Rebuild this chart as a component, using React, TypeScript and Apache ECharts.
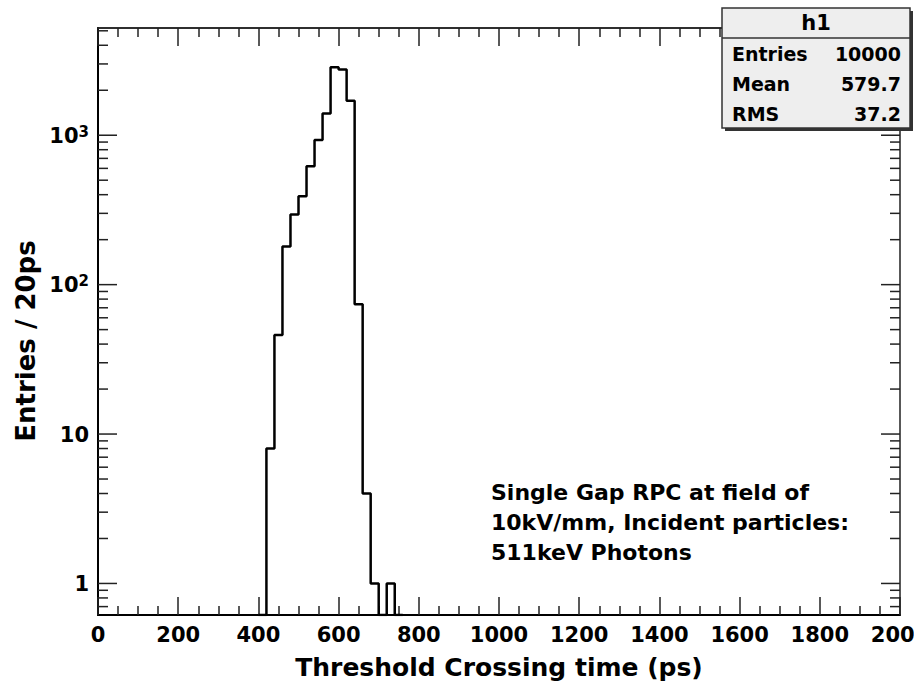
import React, { useEffect, useRef } from 'react';
import * as echarts from 'echarts';

// ---- data ----
const BIN_WIDTH = 20; // ps
const binLowEdges = [420, 440, 460, 480, 500, 520, 540, 560, 580, 600, 620, 640, 660, 680, 700, 720];
const entriesPerBin = [8, 46, 180, 295, 390, 620, 930, 1400, 2850, 2750, 1700, 74, 4, 1, 0, 1];

const X_MIN = 0;
const X_MAX = 2000;
const X_STEP = 200;
const Y_MIN = 0.615;
const Y_MAX = 5220;
const yDecades = [1, 10, 100, 1000];
const yMinorTicks = [
  0.7, 0.8, 0.9,
  2, 3, 4, 5, 6, 7, 8, 9,
  20, 30, 40, 50, 60, 70, 80, 90,
  200, 300, 400, 500, 600, 700, 800, 900,
  2000, 3000, 4000, 5000,
];

const xTitle = 'Threshold Crossing time (ps)';
const yTitle = 'Entries / 20ps';
const statsTitle = 'h1';
const statsLabels = ['Entries', 'Mean', 'RMS'];
const statsValues = ['10000', '579.7', '37.2'];
const noteLines = ['Single Gap RPC at field of', '10kV/mm, Incident particles:', '511keV Photons'];

const FONT = '"DejaVu Sans", "Liberation Sans", Arial, sans-serif';
const INK = '#000';
const FRAME = '#222';

export default function App() {
  const ref = useRef<HTMLDivElement>(null);

  useEffect(() => {
    if (!ref.current) return;
    const chart = echarts.init(ref.current, null, { renderer: 'svg', width: 914, height: 684 });

    // histogram outline (ROOT style): zero bins drop to the frame bottom
    const stepData: number[][] = [[binLowEdges[0] - BIN_WIDTH, Y_MIN]];
    binLowEdges.forEach((x, i) => {
      stepData.push([x, entriesPerBin[i] > 0 ? entriesPerBin[i] : Y_MIN]);
    });
    const lastEdge = binLowEdges[binLowEdges.length - 1] + BIN_WIDTH;
    stepData.push([lastEdge, Y_MIN]);
    stepData.push([lastEdge + BIN_WIDTH, Y_MIN]);

    const tickData = [
      ...yDecades.map((v) => [X_MIN, v, 1]),
      ...yMinorTicks.map((v) => [X_MIN, v, 0]),
    ];

    const labelFont = { fontFamily: FONT, fontWeight: 'bold' as const, color: INK };

    const xAxisCommon = {
      type: 'value' as const,
      min: X_MIN,
      max: X_MAX,
      interval: X_STEP,
      splitLine: { show: false },
      axisTick: { show: true, inside: true, length: 18, lineStyle: { color: FRAME, width: 1.5 } },
      minorTick: { show: true, splitNumber: 4, length: 9, lineStyle: { color: FRAME, width: 1.5 } },
      minorSplitLine: { show: false },
    };

    const TOP_Z = 100;
    const txt = (text: string, x: number, y: number, size: number, align: string) => ({
      type: 'text',
      x,
      y,
      z: TOP_Z + 2,
      style: {
        text, fontSize: size, fontWeight: 'bold', fontFamily: FONT, fill: INK,
        align, verticalAlign: 'middle', textAlign: align, textVerticalAlign: 'middle',
      },
    });

    const statsChildren: any[] = [
      { type: 'rect', z: TOP_Z, shape: { x: 725, y: 11, width: 188, height: 120 }, style: { fill: '#333' } },
      {
        type: 'rect',
        z: TOP_Z + 1,
        shape: { x: 722, y: 8, width: 188, height: 120 },
        style: { fill: '#eeeeee', stroke: '#333', lineWidth: 1.5 },
      },
      {
        type: 'line',
        z: TOP_Z + 2,
        shape: { x1: 722, y1: 38, x2: 910, y2: 38 },
        style: { stroke: '#333', lineWidth: 1.5 },
      },
      txt(statsTitle, 816, 23, 21, 'center'),
    ];
    statsLabels.forEach((lab, i) => {
      const y = 54 + 30 * i;
      statsChildren.push(txt(lab, 732, y, 19, 'left'));
      statsChildren.push(txt(statsValues[i], 901, y, 19, 'right'));
    });

    const option: any = {
      animation: false,
      backgroundColor: '#fff',
      grid: {
        left: 98, top: 28, right: 14, bottom: 69,
        containLabel: false,
        outerBoundsMode: 'none',
        show: true, borderColor: FRAME, borderWidth: 1.5, backgroundColor: 'transparent',
      },
      xAxis: [
        {
          ...xAxisCommon,
          position: 'bottom',
          axisLine: { show: true, onZero: false, lineStyle: { color: INK, width: 2 } },
          axisLabel: {
            show: true, margin: 9, fontSize: 21, ...labelFont, showMaxLabel: true, showMinLabel: true,
            alignMaxLabel: 'center', alignMinLabel: 'center',
            formatter: (v: number) => String(v),
          },
          name: xTitle,
          nameLocation: 'middle',
          nameGap: 40,
          nameTextStyle: { fontSize: 25, ...labelFont },
        },
        {
          ...xAxisCommon,
          position: 'top',
          axisLine: { show: true, onZero: false, lineStyle: { color: FRAME, width: 1.5 } },
          axisLabel: { show: false },
        },
      ],
      yAxis: [
        {
          type: 'log',
          logBase: 10,
          min: Y_MIN,
          max: Y_MAX,
          splitLine: { show: false },
          axisTick: { show: false },
          minorTick: { show: false },
          axisLine: { show: true, lineStyle: { color: INK, width: 2 } },
          axisLabel: {
            show: true,
            margin: 9,
            formatter: (v: number) => {
              const e = Math.log10(v);
              const r = Math.round(e);
              if (Math.abs(e - r) > 1e-6) return '';
              if (r === 0) return '{b|1}';
              if (r === 1) return '{b|10}';
              return '{b|10}{s|' + r + '}';
            },
            rich: {
              b: { fontSize: 21, lineHeight: 22, verticalAlign: 'bottom', ...labelFont },
              s: { fontSize: 15, lineHeight: 15, padding: [0, 0, 18, 0], verticalAlign: 'top', ...labelFont },
            },
          },
        },
      ],
      series: [
        {
          type: 'line',
          xAxisIndex: 0,
          yAxisIndex: 0,
          step: 'end',
          symbol: 'none',
          data: stepData,
          lineStyle: { color: INK, width: 2.5 },
          clip: true,
          z: 4,
          silent: true,
        },
        {
          type: 'custom',
          xAxisIndex: 0,
          yAxisIndex: 0,
          data: tickData,
          silent: true,
          clip: false,
          z: 3,
          renderItem: (params: any, api: any) => {
            const y = api.coord([X_MIN, api.value(1)])[1];
            const cs = params.coordSys;
            const len = api.value(2) ? 19 : 10;
            const style = { stroke: FRAME, lineWidth: 1.5 };
            return {
              type: 'group',
              children: [
                { type: 'line', shape: { x1: cs.x, y1: y, x2: cs.x + len, y2: y }, style },
                { type: 'line', shape: { x1: cs.x + cs.width - len, y1: y, x2: cs.x + cs.width, y2: y }, style },
              ],
            };
          },
        },
      ],
      graphic: [
        {
          type: 'text',
          x: 26,
          y: 341,
          rotation: Math.PI / 2,
          style: {
            text: yTitle, fontSize: 26, fontWeight: 'bold', fontFamily: FONT, fill: INK,
            align: 'center', verticalAlign: 'middle', textAlign: 'center', textVerticalAlign: 'middle',
          },
        },
        {
          type: 'text',
          x: 491,
          y: 477,
          style: {
            text: noteLines.join('\n'), fontSize: 22, lineHeight: 30, fontWeight: 'bold', fontFamily: FONT, fill: INK,
            align: 'left', verticalAlign: 'top', textAlign: 'left', textVerticalAlign: 'top',
          },
        },
        { type: 'group', z: TOP_Z, children: statsChildren },
      ],
    };

    chart.setOption(option);
    return () => chart.dispose();
  }, []);

  return (
    <div
      ref={ref}
      style={{ position: 'fixed', left: 0, top: 0, width: 914, height: 684, background: '#fff' }}
    />
  );
}
